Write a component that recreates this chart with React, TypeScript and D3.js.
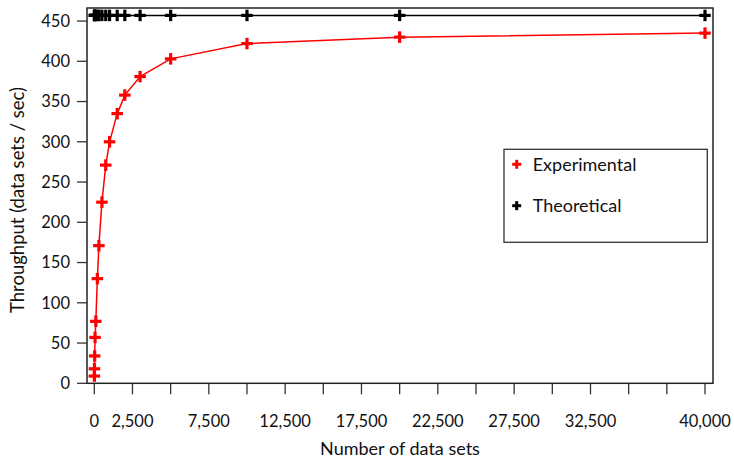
import React from "react";
import * as d3 from "d3";

const dataSets = [5, 10, 25, 50, 100, 200, 300, 500, 750, 1000, 1500, 2000, 3000, 5000, 10000, 20000, 40000];
const experimental = [9, 18, 34, 57, 77, 130, 171, 225, 271, 300, 335, 358, 381, 403, 422, 430, 435];
const theoretical = [457, 457, 457, 457, 457, 457, 457, 457, 457, 457, 457, 457, 457, 457, 457, 457, 457];
const xTicks = [0, 2500, 5000, 7500, 10000, 12500, 15000, 17500, 20000, 22500, 25000, 27500, 30000, 32500, 35000, 37500, 40000];
const xTickLabels = [0, 2500, 7500, 12500, 17500, 22500, 27500, 32500, 40000];
const yTicks = [0, 50, 100, 150, 200, 250, 300, 350, 400, 450];
const seriesNames = ["Experimental", "Theoretical"];
const seriesColors = ["#ff0000", "#000000"];

const W = 734;
const H = 459;
const box = { left: 87, right: 713, top: 8, bottom: 383.3 };
const FONT = "Lato, 'DejaVu Sans', sans-serif";

function Plus({ x, y, size, color, width }: { x: number; y: number; size: number; color: string; width: number }) {
  const h = size / 2;
  return (
    <g stroke={color} strokeWidth={width} strokeLinecap="butt">
      <line x1={x - h} x2={x + h} y1={y} y2={y} />
      <line x1={x} x2={x} y1={y - h} y2={y + h} />
    </g>
  );
}

export default function App() {
  const x = d3.scaleLinear().domain([0, 40000]).range([94.3, 705]);
  const y = d3.scaleLinear().domain([0, 466.2]).range([box.bottom, box.top]);
  const fmt = d3.format(",");
  const line = d3
    .line<[number, number]>()
    .x((d) => x(d[0]))
    .y((d) => y(d[1]));
  const series = [experimental, theoretical];

  return (
    <svg width={W} height={H} style={{ position: "absolute", left: 0, top: 0, background: "#fff" }} fontFamily={FONT}>
      <rect x={0} y={0} width={W} height={H} fill="#fff" />
      {/* y ticks */}
      {yTicks.map((t) => (
        <g key={"y" + t}>
          <line x1={77} x2={box.left} y1={y(t)} y2={y(t)} stroke="#333" strokeWidth={1.3} />
          <text x={70} y={y(t)} dy="0.35em" textAnchor="end" fontSize={16.5} fill="#111">
            {t}
          </text>
        </g>
      ))}
      {/* x ticks */}
      {xTicks.map((t) => (
        <line key={"x" + t} x1={x(t)} x2={x(t)} y1={box.bottom} y2={box.bottom + 11} stroke="#333" strokeWidth={1.3} />
      ))}
      {xTickLabels.map((t) => (
        <text key={"xl" + t} x={x(t)} y={427} textAnchor="middle" fontSize={16.5} fill="#111">
          {fmt(t)}
        </text>
      ))}
      {/* series */}
      {series.map((vals, si) => {
        const pts: [number, number][] = dataSets.map((d, i) => [d, vals[i]]);
        return (
          <g key={"s" + si}>
            <path d={line(pts) || ""} fill="none" stroke={seriesColors[si]} strokeWidth={1.5} />
            {pts.map((p, i) => (
              <Plus key={i} x={x(p[0])} y={y(p[1])} size={11.5} color={seriesColors[si]} width={3.2} />
            ))}
          </g>
        );
      })}
      {/* frame */}
      <rect x={box.left} y={box.top} width={box.right - box.left} height={box.bottom - box.top} fill="none" stroke="#222" strokeWidth={1.5} />
      {/* legend */}
      <rect x={504} y={149.3} width={203.3} height={93} fill="#fff" stroke="#333" strokeWidth={1.3} />
      {seriesNames.map((n, i) => (
        <g key={n}>
          <Plus x={516.7} y={164.3 + i * 41.4} size={9} color={seriesColors[i]} width={3} />
          <text x={532.7} y={164.3 + i * 41.4} dy="0.35em" fontSize={18} fill="#111">
            {n}
          </text>
        </g>
      ))}
      {/* axis titles */}
      <text x={400} y={455} textAnchor="middle" fontSize={18} fill="#111">
        Number of data sets
      </text>
      <text transform="translate(24,200) rotate(-90)" textAnchor="middle" fontSize={18.5} fill="#111">
        Throughput (data sets / sec)
      </text>
    </svg>
  );
}
